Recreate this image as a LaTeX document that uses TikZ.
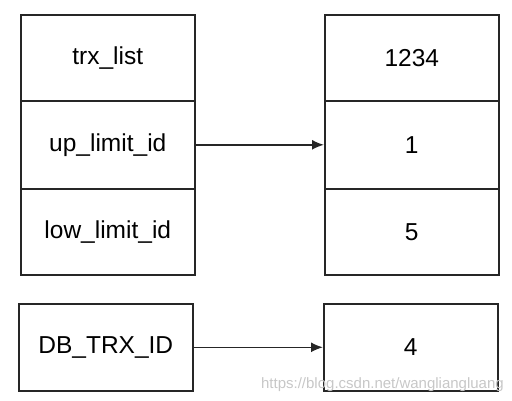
\documentclass[tikz,border=0pt]{standalone}
\usepackage{fontspec}
\setmainfont{Liberation Sans}
\usetikzlibrary{arrows.meta}
\begin{document}
\begin{tikzpicture}[x=1pt,y=-1pt,
  cell/.style={draw=black!85,line width=1.6pt,minimum width=174pt,inner sep=0pt,font=\fontsize{24.5}{27}\selectfont,anchor=north west},
  link/.style={draw=black!85,line width=1.6pt,-{Latex[length=12pt,width=10pt]}},
  wm/.style={text=black!22,font=\fontsize{15}{17}\selectfont,anchor=base east,inner sep=0pt}]
\useasboundingbox (0,0) rectangle (512,401);
\node[cell,minimum height=86pt] (trx) at (20,14) {trx\_list};
\node[cell,minimum height=88pt] (up) at (20,100) {up\_limit\_id};
\node[cell,minimum height=86pt] (low) at (20,188) {low\_limit\_id};
\node[cell,minimum height=87pt] (db) at (18,303) {DB\_TRX\_ID};
\node[cell,minimum height=86pt] (v1234) at (324,14) {1234};
\node[cell,minimum height=88pt] (v1) at (324,100) {1};
\node[cell,minimum height=86pt] (v5) at (324,188) {5};
\node[cell,minimum height=87pt] (v4) at (323,303) {4};
\draw[link] (up.east) -- (v1.west);
\draw[link] (db.east) -- (v4.west);
\node[wm] (mark) at (504,388) {https://blog.csdn.net/wangliangluang};
\end{tikzpicture}
\end{document}
